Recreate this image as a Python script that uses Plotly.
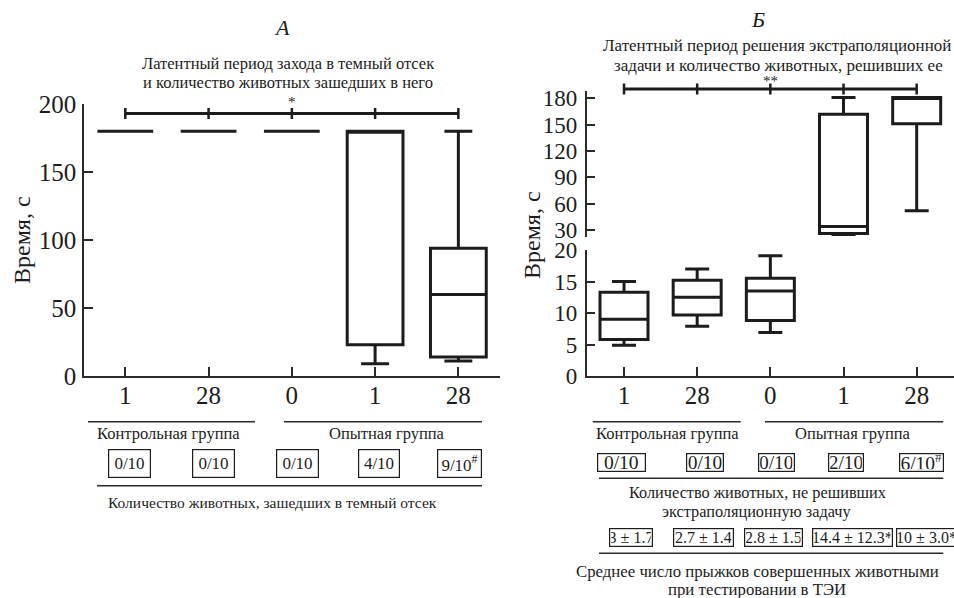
import plotly.graph_objects as go

W, H = 954, 598
FONT = "'Liberation Serif', 'Times New Roman', Times, serif"
INK = "#1c1c1c"

# ---------------- data ----------------
cat_labels = ["1", "28", "0", "1", "28"]
cat_pos = [0, 1, 2, 3, 4]

# Panel A: latency to enter dark compartment, s
a_q1 = [180, 180, 180, 23, 14]
a_median = [180, 180, 180, 180, 60]
a_q3 = [180, 180, 180, 180, 94]
a_lowf = [180, 180, 180, 9, 11]
a_upf = [180, 180, 180, 180, 180]

# Panel B: latency to solve extrapolation task, s (first 3 on lower, last 2 on upper segment)
b_q1 = [5.8, 9.7, 8.8, 26, 151]
b_median = [9.0, 12.5, 13.5, 34, 181]
b_q3 = [13.3, 15.2, 15.5, 162, 181]
b_lowf = [4.9, 7.9, 6.9, 25, 52]
b_upf = [15.0, 17.0, 19.1, 181, 181]

a_counts = ["0/10", "0/10", "0/10", "4/10", "9/10<sup>#</sup>"]
b_counts = ["0/10", "0/10", "0/10", "2/10", "6/10<sup>#</sup>"]
b_jumps = ["3 ± 1.7", "2.7 ± 1.4", "2.8 ± 1.5", "14.4 ± 12.3*", "10 ± 3.0*"]

a_yticks = [0, 50, 100, 150, 200]
b_yticks_low = [0, 5, 10, 15, 20]
b_yticks_up = [30, 60, 90, 120, 150, 180]

sig_a_level = 193
sig_b_level = 190.6
sig_a_text = "*"
sig_b_text = "**"

# ---------------- layout geometry ----------------
def py(p):
    return 1 - p / H

def px(p):
    return p / W

xa_dom = [px(84), px(500)]
xa_rng = [-0.496, 4.5]
ya_dom = [py(376), py(104)]
ya_rng = [0, 200]

xb_dom = [px(586.7), 1.0]
xb_rng = [-0.51, 4.51]
yb_lo_dom = [py(376), py(250)]
yb_lo_rng = [0, 20]
yb_up_dom = [py(236.7), py(90.7)]
yb_up_rng = [22.4, 188.7]


def to_paper(v, dom, rng):
    return dom[0] + (v - rng[0]) / (rng[1] - rng[0]) * (dom[1] - dom[0])


box_style = dict(
    line=dict(color=INK, width=3),
    fillcolor="rgba(255,255,255,0)",
    boxpoints=False,
    whiskerwidth=0.5,
    showlegend=False,
    hoverinfo="skip",
)

fig = go.Figure()
fig.add_trace(go.Box(x=cat_pos, q1=a_q1, median=a_median, q3=a_q3,
                     lowerfence=a_lowf, upperfence=a_upf, width=0.67,
                     xaxis="x", yaxis="y", **box_style))
fig.add_trace(go.Box(x=cat_pos[:3], q1=b_q1[:3], median=b_median[:3], q3=b_q3[:3],
                     lowerfence=b_lowf[:3], upperfence=b_upf[:3], width=0.656,
                     xaxis="x2", yaxis="y2", **box_style))
fig.add_trace(go.Box(x=cat_pos[3:], q1=b_q1[3:], median=b_median[3:], q3=b_q3[3:],
                     lowerfence=b_lowf[3:], upperfence=b_upf[3:], width=0.656,
                     xaxis="x2", yaxis="y3", **box_style))

tickfont = dict(family=FONT, size=25, color=INK)
tickfont_b = dict(family=FONT, size=23, color=INK)
common_ax = dict(showgrid=False, zeroline=False, showline=True, linecolor="#2a2a2a",
                 linewidth=1.5, ticks="inside", ticklen=9, tickwidth=1.5,
                 tickcolor="#2a2a2a", automargin=False, fixedrange=True)

fig.update_layout(
    width=W, height=H, margin=dict(l=0, r=0, t=0, b=0),
    paper_bgcolor="white", plot_bgcolor="white",
    template="none", showlegend=False, boxmode="overlay",
    font=dict(family=FONT, color=INK),
    xaxis=dict(domain=xa_dom, range=xa_rng, anchor="y", tickvals=cat_pos,
               ticktext=cat_labels, tickfont=tickfont, ticklabelstandoff=-4, **common_ax),
    yaxis=dict(domain=ya_dom, range=ya_rng, anchor="x", tickvals=a_yticks,
               tickfont=tickfont, ticklabelstandoff=1, **common_ax),
    xaxis2=dict(domain=xb_dom, range=xb_rng, anchor="y2", tickvals=cat_pos,
                ticktext=cat_labels, tickfont=tickfont, ticklabelstandoff=-4, **common_ax),
    yaxis2=dict(domain=yb_lo_dom, range=yb_lo_rng, anchor="x2", tickvals=b_yticks_low,
                tickfont=tickfont_b, ticklabelstandoff=3, **common_ax),
    yaxis3=dict(domain=yb_up_dom, range=yb_up_rng, anchor="x2", tickvals=b_yticks_up,
                tickfont=tickfont_b, ticklabelstandoff=3, **common_ax),
)

shapes = []
ann = []


def hline(x0, x1, y, w=1.5):
    shapes.append(dict(type="line", xref="paper", yref="paper", x0=px(x0), x1=px(x1),
                       y0=py(y), y1=py(y), line=dict(color="#2a2a2a", width=w)))


def text(t, x, y, size, **kw):
    d = dict(text=t, x=px(x), y=py(y), xref="paper", yref="paper", showarrow=False,
             xanchor="center", yanchor="middle",
             font=dict(family=FONT, size=size, color=INK))
    d.update(kw)
    ann.append(d)


def boxed(t, x, y, size, w, h, pad=1, **kw):
    text(t, x, y, size, bordercolor=INK, borderwidth=1.2, borderpad=pad,
         width=w - 2 * pad - 2.4, height=h - 2 * pad - 2.4, align="center", **kw)


# significance bars (x in data units, y from the axis mapping)
def sig_bar(xref, level, dom, rng, star, star_dy):
    yb = to_paper(level, dom, rng)
    tick = 5.5 / H
    shapes.append(dict(type="line", xref=xref, yref="paper", x0=cat_pos[0], x1=cat_pos[-1],
                       y0=yb, y1=yb, line=dict(color=INK, width=3)))
    for c in cat_pos:
        shapes.append(dict(type="line", xref=xref, yref="paper", x0=c, x1=c,
                           y0=yb - tick, y1=yb + tick, line=dict(color=INK, width=2.5)))
    ann.append(dict(text=star, x=2, xref=xref, y=yb + star_dy / H, yref="paper",
                    showarrow=False, xanchor="center", yanchor="middle",
                    font=dict(family=FONT, size=15, color=INK)))


sig_bar("x", sig_a_level, ya_dom, ya_rng, sig_a_text, 12)
sig_bar("x2", sig_b_level, yb_up_dom, yb_up_rng, sig_b_text, 8)

# ---- Panel A texts ----
text("<i>А</i>", 282, 28, 22)
text("Латентный период захода в темный отсек", 288, 63, 16.5)
text("и количество животных зашедших в него", 288, 82, 16.5)
text("Время, с", 22, 240, 24, textangle=-90)
hline(88, 255, 421.7)
hline(284, 482, 421.7)
text("Контрольная группа", 168, 433, 16.5)
text("Опытная группа", 387, 433, 16.5)
for t, x, w in zip(a_counts, [129.7, 213.7, 297, 379, 459.5], [43, 43, 43, 42, 45]):
    boxed(t, x, 463, 17, w, 29, pad=2)
hline(97, 482, 485.7)
text("Количество животных, зашедших в темный отсек", 272, 502, 15.5)

# ---- Panel B texts ----
text("<i>Б</i>", 758, 20, 22)
text("Латентный период решения экстраполяционной", 777, 45, 17)
text("задачи и количество животных, решивших ее", 778, 65, 17)
text("Время, с", 532, 235, 24, textangle=-90)
hline(592.7, 740.7, 421.7)
hline(765, 943.3, 421.7)
text("Контрольная группа", 667, 433, 16.5)
text("Опытная группа", 853, 433, 16.5)
for t, x, w in zip(b_counts, [621, 704.5, 776, 846, 921], [48.5, 38, 36.5, 36, 44.5]):
    boxed(t, x, 462.5, 19.5, w, 18.5)
hline(599, 943.3, 478.3)
text("Количество животных, не решивших", 757, 492, 16.3)
text("экстраполяционную задачу", 757, 511.5, 16.3)
for t, x, w in zip(b_jumps, [631, 703, 773.3, 852.3, 926], [44, 60.6, 58.7, 80.7, 61]):
    boxed(t, x, 537, 16, w, 18.5)
hline(599, 943.3, 553.3)
text("Среднее число прыжков совершенных животными", 757, 571.5, 16.8)
text("при тестировании в ТЭИ", 757, 589, 16.8)

fig.update_layout(shapes=shapes, annotations=ann)
fig.write_html("out.html", config={"displayModeBar": False},
               post_script="document.body.style.margin='0';document.body.style.padding='0';")
